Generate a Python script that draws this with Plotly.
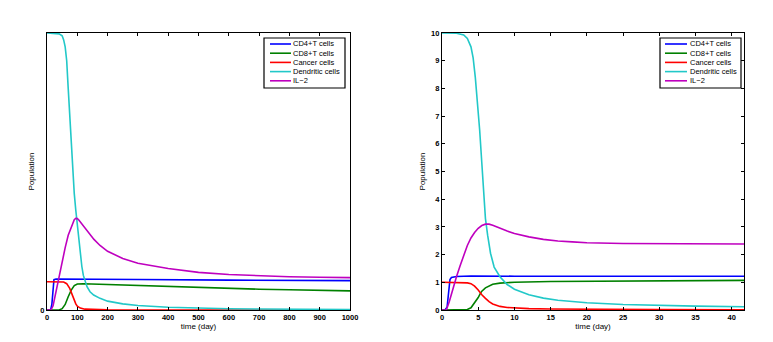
import plotly.graph_objects as go
from plotly.subplots import make_subplots

# the page body has an 8px margin, so the figure is drawn 8px in from the corner
OFF = 8
W, H = 773 - OFF, 342 - OFF

names = ['CD4+T cells', 'CD8+T cells', 'Cancer cells', 'Dendritic cells', 'IL\u22122']
colors = ['#0000ff', '#008000', '#ff0000', '#22c8c8', '#bf00bf']

# ---- long run (0-1000 days)
t_cd4_long = [0, 12, 16, 20, 23, 30, 100, 300, 600, 1000]
cd4_long = [0, 0, 0.2, 0.9, 1.1, 1.12, 1.12, 1.1, 1.08, 1.06]

t_cd8_long = [0, 40, 50, 60, 70, 80, 90, 100, 120, 200, 300, 400, 500, 600, 700, 800, 900, 1000]
cd8_long = [0, 0, 0.05, 0.2, 0.48, 0.72, 0.88, 0.94, 0.95, 0.92, 0.88, 0.84, 0.81, 0.78, 0.75, 0.73, 0.71, 0.69]

t_cancer_long = [0, 55, 65, 75, 85, 90, 95, 100, 110, 125, 150, 200, 1000]
cancer_long = [1.02, 1.01, 0.95, 0.78, 0.5, 0.35, 0.22, 0.14, 0.07, 0.03, 0.015, 0.005, 0]

t_dc_long = [0, 30, 40, 50, 55, 60, 65, 70, 75, 80, 85, 90, 95, 100, 105, 110, 115, 120, 126, 132, 142, 154, 175, 200, 250, 300, 400, 500, 600, 700, 800, 1000]
dc_long = [10, 9.99, 9.97, 9.9, 9.75, 9.5, 9.0, 8.0, 7.0, 6.0, 5.0, 4.2, 3.6, 3.1, 2.4, 1.95, 1.57, 1.25, 1.0, 0.84, 0.66, 0.54, 0.42, 0.32, 0.22, 0.16, 0.1, 0.06, 0.045, 0.035, 0.03, 0.02]

t_il2_long = [0, 13, 20, 30, 40, 50, 60, 70, 80, 85, 90, 95, 100, 105, 110, 120, 130, 140, 155, 175, 200, 250, 300, 400, 500, 600, 700, 800, 900, 1000]
il2_long = [0, 0, 0.15, 0.7, 1.2, 1.75, 2.25, 2.7, 3.02, 3.15, 3.26, 3.31, 3.3, 3.25, 3.18, 3.03, 2.88, 2.74, 2.55, 2.33, 2.12, 1.86, 1.69, 1.5, 1.36, 1.28, 1.23, 1.2, 1.18, 1.17]

# ---- short run (0-41.7 days)
t_cd4_short = [0, 0.4, 0.7, 0.9, 1.1, 1.3, 2, 4, 10, 41.7]
cd4_short = [0, 0, 0.1, 0.5, 1.1, 1.17, 1.21, 1.23, 1.22, 1.22]

t_cd8_short = [0, 3, 3.5, 4, 4.5, 5, 5.3, 5.5, 6, 6.5, 7, 8, 9, 10, 15, 20, 30, 41.7]
cd8_short = [0, 0, 0.02, 0.08, 0.25, 0.45, 0.6, 0.68, 0.8, 0.88, 0.93, 0.97, 0.99, 1.0, 1.03, 1.04, 1.06, 1.07]

t_cancer_short = [0, 3, 3.5, 4, 4.5, 5, 5.3, 5.5, 6, 6.5, 7, 8, 9, 10, 12, 15, 20, 30, 41.7]
cancer_short = [1, 1, 0.98, 0.95, 0.86, 0.72, 0.6, 0.55, 0.42, 0.3, 0.22, 0.13, 0.09, 0.07, 0.05, 0.035, 0.025, 0.015, 0.01]

t_dc_short = [0, 2, 3, 3.5, 4, 4.3, 4.6, 4.9, 5.2, 5.5, 5.7, 6.0, 6.3, 6.7, 7.2, 8, 9, 10, 12, 14, 16, 18, 20, 25, 30, 35, 41.7]
dc_short = [10, 9.99, 9.93, 9.8, 9.5, 9.1, 8.4, 7.5, 6.5, 5.3, 4.4, 3.3, 2.7, 2.05, 1.55, 1.2, 0.92, 0.75, 0.55, 0.43, 0.35, 0.3, 0.26, 0.2, 0.16, 0.14, 0.12]

t_il2_short = [0, 0.6, 1, 1.5, 2, 2.5, 3, 3.5, 4, 4.5, 5, 5.5, 6, 6.5, 7, 8, 9, 10, 12, 14, 16, 18, 20, 25, 30, 35, 41.7]
il2_short = [0, 0, 0.3, 0.8, 1.2, 1.6, 2.0, 2.33, 2.6, 2.8, 2.95, 3.05, 3.1, 3.1, 3.06, 2.95, 2.85, 2.76, 2.64, 2.55, 2.49, 2.46, 2.43, 2.4, 2.39, 2.38, 2.38]

long_series = [(t_cd4_long, cd4_long), (t_cd8_long, cd8_long), (t_cancer_long, cancer_long),
               (t_dc_long, dc_long), (t_il2_long, il2_long)]
short_series = [(t_cd4_short, cd4_short), (t_cd8_short, cd8_short), (t_cancer_short, cancer_short),
                (t_dc_short, dc_short), (t_il2_short, il2_short)]


def px_x(x):
    return (x - OFF) / W


def px_y(y):
    return 1 - (y - OFF) / H


fig = make_subplots(rows=1, cols=2)

for i, (t, v) in enumerate(long_series):
    fig.add_trace(go.Scatter(x=t, y=v, mode='lines', name=names[i], showlegend=False,
                             line=dict(color=colors[i], width=1.6)), row=1, col=1)
for i, (t, v) in enumerate(short_series):
    fig.add_trace(go.Scatter(x=t, y=v, mode='lines', name=names[i], showlegend=False,
                             line=dict(color=colors[i], width=1.6)), row=1, col=2)

axis_style = dict(showline=True, linecolor='black', linewidth=1.2, mirror='ticks',
                  ticks='inside', ticklen=3, tickcolor='black', showgrid=False, zeroline=False,
                  automargin=False, tickfont=dict(size=7.5, color='black', weight='bold'))

fig.update_xaxes(**axis_style)
fig.update_yaxes(**axis_style)

fig.update_xaxes(domain=[px_x(47), px_x(350)], range=[0, 1000], tickvals=list(range(0, 1001, 100)),
                 title=dict(text='time (day)', font=dict(size=8), standoff=1), row=1, col=1)
fig.update_xaxes(domain=[px_x(442), px_x(744)], range=[0, 41.7], tickvals=list(range(0, 41, 5)),
                 title=dict(text='time (day)', font=dict(size=8), standoff=1), row=1, col=2)
fig.update_yaxes(domain=[px_y(310), px_y(33)], range=[0, 10], tickvals=[0],
                 title=dict(text='Population', font=dict(size=8), standoff=4), row=1, col=1)
fig.update_yaxes(domain=[px_y(310), px_y(33)], range=[0, 10], tickvals=list(range(0, 11)),
                 title=dict(text='Population', font=dict(size=8), standoff=4), row=1, col=2)

# hand-drawn legends, Matlab-style compact boxes
shapes = []
annotations = []
for box_l, box_r, line_l, line_r, text_l in [(264, 345, 270, 291, 293), (660, 741, 665, 687, 690)]:
    top, bottom = 38, 88
    shapes.append(dict(type='rect', xref='paper', yref='paper',
                       x0=px_x(box_l), x1=px_x(box_r), y0=px_y(bottom), y1=px_y(top),
                       line=dict(color='black', width=1.2), fillcolor='white', layer='above'))
    for k, name in enumerate(names):
        row_y = 44 + k * 9.2
        shapes.append(dict(type='line', xref='paper', yref='paper',
                           x0=px_x(line_l), x1=px_x(line_r), y0=px_y(row_y), y1=px_y(row_y),
                           line=dict(color=colors[k], width=1.6), layer='above'))
        annotations.append(dict(xref='paper', yref='paper', x=px_x(text_l), y=px_y(row_y),
                                text=name, showarrow=False, xanchor='left', yanchor='middle',
                                xshift=-2, font=dict(size=7.5, color='black')))

fig.update_layout(
    width=W, height=H,
    margin=dict(l=0, r=0, t=0, b=0),
    paper_bgcolor='white', plot_bgcolor='white',
    font=dict(family='Arial, Liberation Sans, sans-serif', color='black'),
    shapes=shapes, annotations=annotations,
)

fig.write_html("out.html")
